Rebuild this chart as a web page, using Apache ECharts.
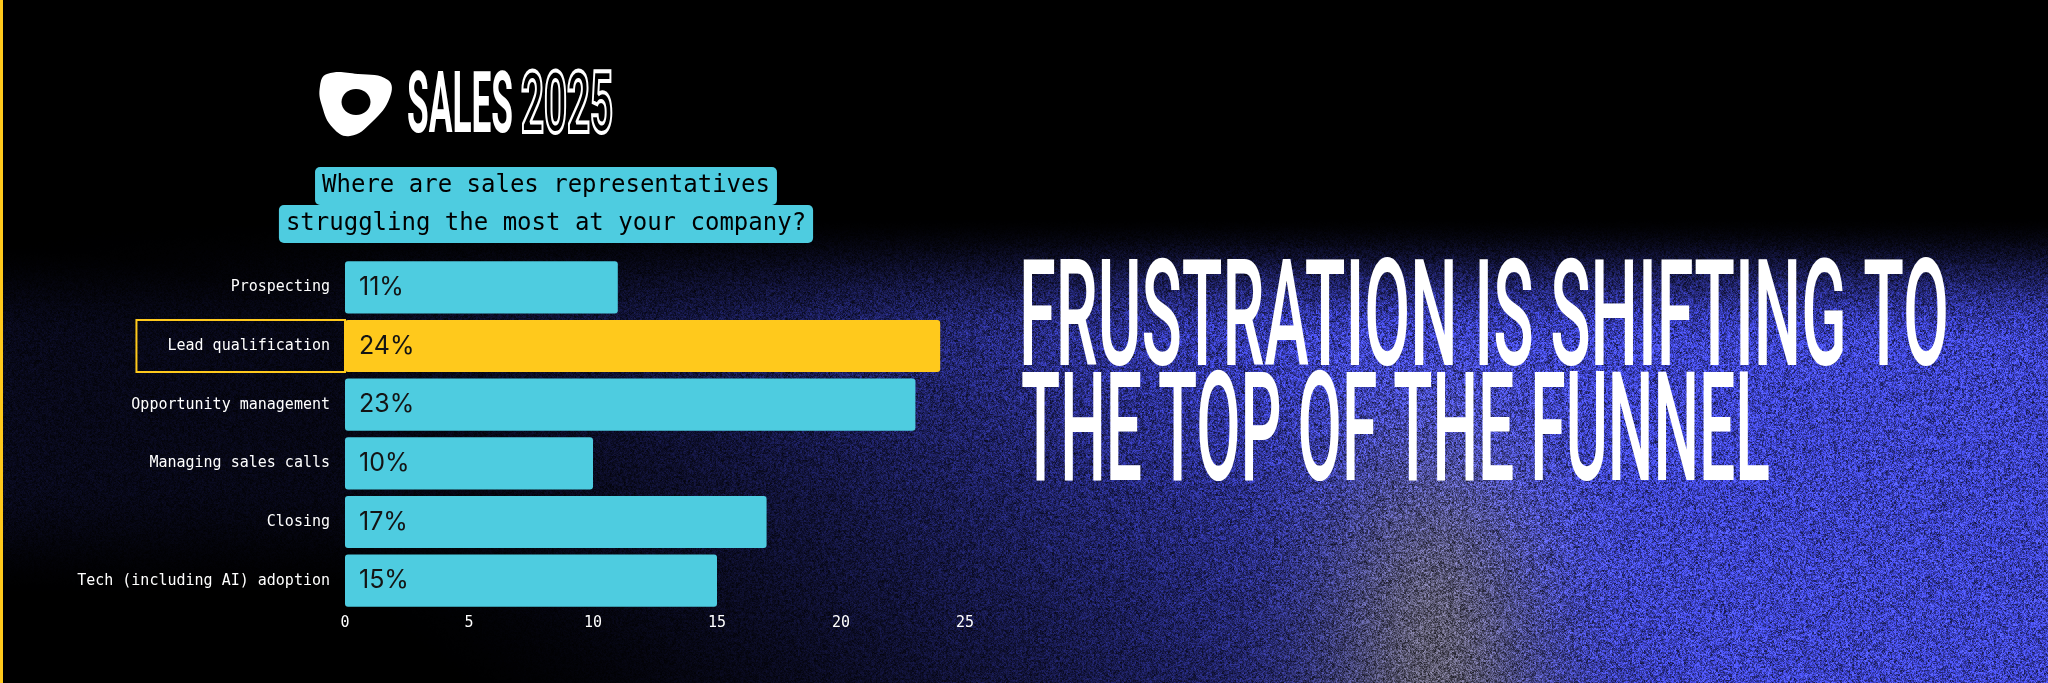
<!DOCTYPE html>
<html>
<head>
<meta charset="utf-8">
<script src="https://cdn.jsdelivr.net/npm/echarts@6/dist/echarts.min.js"></script>
<style>
html,body{margin:0;padding:0;background:#000;}
#chart{width:2048px;height:683px;}
</style>
</head>
<body>
<div id="chart"></div>
<script>
// ---- data ----
const categories = ['Prospecting', 'Lead qualification', 'Opportunity management', 'Managing sales calls', 'Closing', 'Tech (including AI) adoption'];
const values = [11, 24, 23, 10, 17, 15];
const highlighted = 'Lead qualification';
const xTicks = [0, 5, 10, 15, 20, 25];
const questionLines = ['Where are sales representatives', 'struggling the most at your company?'];
const headlineLines = ['FRUSTRATION IS SHIFTING TO', 'THE TOP OF THE FUNNEL'];
const brandWord = 'SALES';
const brandYear = '2025';

// ---- styling ----
const W = 2048, H = 683;
const CYAN = '#4ECCE0';
const YELLOW = '#FFC91C';
const MONO = 'DejaVu Sans Mono';

function smooth(a, b, v) { let t = Math.min(1, Math.max(0, (v - a) / (b - a))); return t * t * (3 - 2 * t); }
function grain(x, y) {
  let h = (x * 374761393 + y * 668265263) | 0;
  h = Math.imul(h ^ (h >>> 13), 1274126177);
  h = h ^ (h >>> 16);
  return (h >>> 0) / 4294967295;
}
function makeBackground() {
  const c = document.createElement('canvas'); c.width = W; c.height = H;
  const g = c.getContext('2d');
  const img = g.createImageData(W, H);
  const d = img.data;
  for (let y = 0; y < H; y++) {
    const v = smooth(215, 350, y);
    const navy = smooth(240, 340, y) * (1 - smooth(480, 600, y)) * 0.13;
    for (let x = 0; x < W; x++) {
      let k = Math.min(1, Math.max(0, (x / W) * 1.6 - (y / H) * 0.6 + 0.25));
      k = Math.max(Math.pow(k, 1.5) * v, navy * (1 - x / 1400));
      let r = 60 * k, gg = 66 * k, b = 198 * k;
      const gb = Math.exp(-Math.pow((x - 1437) / 110, 2)) * smooth(290, 640, y) * 0.72;
      r = r * (1 - gb) + 108 * gb; gg = gg * (1 - gb) + 103 * gb; b = b * (1 - gb) + 96 * gb;
      const n = 0.3 + 1.4 * (0.6 * grain(x, y) + 0.4 * grain(x >> 1, y >> 1));
      const i = (y * W + x) * 4;
      d[i] = Math.min(255, r * n); d[i + 1] = Math.min(255, gg * n); d[i + 2] = Math.min(255, b * n); d[i + 3] = 255;
    }
  }
  g.putImageData(img, 0, 0);
  return c;
}
const mctx = document.createElement('canvas').getContext('2d');
// condensed capitals: font size, horizontal scale and y so capitals span [capTop, capBottom] with the given width
function capLayout(text, weight, family, capTop, capBottom, width) {
  mctx.textBaseline = 'middle';
  mctx.font = weight + ' 100px ' + family;
  const m = mctx.measureText('H');
  const capRatio = (m.actualBoundingBoxAscent + m.actualBoundingBoxDescent) / 100;
  const size = (capBottom - capTop) / capRatio;
  const font = weight + ' ' + size.toFixed(1) + 'px ' + family;
  mctx.font = font;
  const mm = mctx.measureText('H');
  const y = capTop + mm.actualBoundingBoxAscent;
  const w = mctx.measureText(text).width;
  return { font: font, scaleX: width / w, y: y };
}
const head1 = capLayout(headlineLines[0], '500', 'Roboto', 259, 366, 930);
const head2 = capLayout(headlineLines[1], '500', 'Roboto', 372, 481, 749);
const salesL = capLayout(brandWord, 'bold', 'Roboto', 71, 133, 106);
const yearL = capLayout(brandYear, 'bold', 'Roboto', 71, 133, 92);

const chart = echarts.init(document.getElementById('chart'), null, { renderer: 'canvas' });
const option = {
  backgroundColor: '#000',
  animation: false,
  grid: { left: 345, top: 258, width: 620, height: 352 },
  xAxis: {
    type: 'value', min: xTicks[0], max: xTicks[xTicks.length - 1], interval: xTicks[1] - xTicks[0],
    axisLine: { show: false }, axisTick: { show: false }, splitLine: { show: false },
    axisLabel: { color: '#fff', fontFamily: MONO, fontSize: 15, margin: 6 }
  },
  yAxis: {
    type: 'category', data: categories, inverse: true,
    axisLine: { show: false }, axisTick: { show: false },
    axisLabel: {
      margin: 0, color: '#fff', fontFamily: MONO, fontSize: 15,
      formatter: v => (v === highlighted ? '{hl|' + v + '}' : '{n|' + v + '}'),
      rich: {
        n: { color: '#fff', fontFamily: MONO, fontSize: 15, padding: [0, 15, 0, 0] },
        hl: { color: '#fff', fontFamily: MONO, fontSize: 15, height: 18, lineHeight: 52, padding: [17, 15, 17, 31], borderColor: YELLOW, borderWidth: 2 }
      }
    }
  },
  graphic: [
    { type: 'image', z: -10, silent: true, x: 0, y: 0, style: { image: makeBackground(), x: 0, y: 0, width: W, height: H } },
    { type: 'rect', z: 5, silent: true, shape: { x: 0, y: 0, width: 3, height: H }, style: { fill: YELLOW } },
    // logo
    { type: 'polygon', z: 5, silent: true, shape: { smooth: 0.45, points: [[327, 74], [358, 74], [388, 80], [390, 97], [372, 122], [350, 136], [333, 128], [322, 106], [320, 86]] }, style: { fill: '#fff' } },
    { type: 'ellipse', z: 6, silent: true, shape: { cx: 356, cy: 102, rx: 14.5, ry: 13 }, style: { fill: '#000' } },
    { type: 'text', z: 5, silent: true, x: 407, y: salesL.y, scaleX: salesL.scaleX, style: { text: brandWord, font: salesL.font, fill: '#fff', align: 'left', verticalAlign: 'middle' } },
    { type: 'text', z: 5, silent: true, x: 521, y: yearL.y, scaleX: yearL.scaleX, style: { text: brandYear, font: yearL.font, fill: 'none', stroke: '#fff', lineWidth: 4, align: 'left', verticalAlign: 'middle' } },
    // question
    { type: 'text', z: 5, silent: true, x: 546, y: 167, style: {
        text: questionLines.map(l => '{a|' + l + '}').join('\n'), align: 'center', verticalAlign: 'top',
        rich: { a: { backgroundColor: CYAN, color: '#111', fontFamily: MONO, fontSize: 24, height: 24, lineHeight: 38, padding: [7, 7], borderRadius: 5 } }
    } },
    // headline
    { type: 'text', z: 5, silent: true, x: 1019, y: head1.y, scaleX: head1.scaleX, style: { text: headlineLines[0], font: head1.font, fill: '#fff', align: 'left', verticalAlign: 'middle' } },
    { type: 'text', z: 5, silent: true, x: 1021, y: head2.y, scaleX: head2.scaleX, style: { text: headlineLines[1], font: head2.font, fill: '#fff', align: 'left', verticalAlign: 'middle' } }
  ],
  series: [{
    type: 'bar',
    data: values.map((v, i) => ({ value: v, itemStyle: { color: categories[i] === highlighted ? YELLOW : CYAN } })),
    barCategoryGap: '11%',
    itemStyle: { borderRadius: 3 },
    label: { show: true, position: 'insideLeft', distance: 14, formatter: '{c}%', color: '#141414', fontFamily: 'Inter', fontSize: 25 }
  }]
};
chart.setOption(option);
</script>
</body>
</html>
